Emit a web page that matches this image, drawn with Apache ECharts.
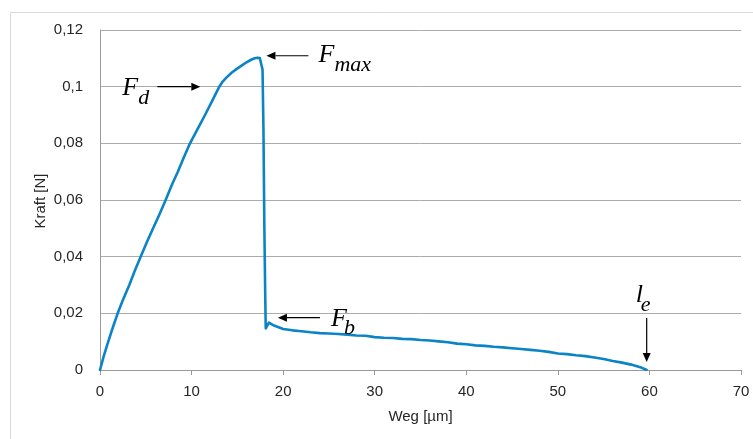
<!DOCTYPE html>
<html>
<head>
<meta charset="utf-8">
<script src="https://cdn.jsdelivr.net/npm/echarts@6/dist/echarts.min.js"></script>
<style>
  html, body { margin: 0; padding: 0; background: #fff; }
  #chart { width: 753px; height: 439px; }
</style>
</head>
<body>
<div id="chart"></div>
<script>
// Displacement in µm
const weg = [
  0, 0.4, 0.9, 1.4, 1.93, 2.5, 3.2, 3.8, 4.44, 5.1, 5.8, 6.5, 7.17, 7.83, 8.5, 9.15, 9.83, 10.65, 11.47, 12.25, 13.03, 13.4, 13.8,
  14.4, 14.9, 15.5, 16.0, 16.5, 16.9, 17.2, 17.45, 17.65, 17.75, 17.85, 17.95, 18.05, 18.1, 18.2, 18.45, 19.0,
  20, 21, 22, 23, 24, 25, 26, 27, 28, 29, 30, 31, 32, 33, 34, 35, 36, 37, 38, 39,
  40, 41, 42, 43, 44, 45, 46, 47, 48, 49, 50, 51, 52, 53, 54, 55, 56, 57, 58, 59, 59.7
];
// Force in N
const kraft = [
  0, 0.0048, 0.0100, 0.0150, 0.0200, 0.0247, 0.0300, 0.0350, 0.0400, 0.0450, 0.0500, 0.0550, 0.0600, 0.0652, 0.0700, 0.0750, 0.0800, 0.0850, 0.0900, 0.0950, 0.1000, 0.1018, 0.1032,
  0.1050, 0.1062, 0.1075, 0.1086, 0.1095, 0.1100, 0.1102, 0.1101, 0.1096, 0.1060, 0.0850, 0.0500, 0.0250, 0.0147, 0.0152, 0.0167, 0.0157,
  0.0145, 0.0140, 0.0137, 0.0133, 0.0130, 0.0129, 0.0127, 0.0125, 0.0122, 0.0121, 0.0116, 0.0114, 0.0113, 0.0110, 0.0109, 0.0106, 0.0104, 0.0101, 0.0098, 0.0093,
  0.0091, 0.0087, 0.0085, 0.0082, 0.0080, 0.0077, 0.0074, 0.0071, 0.0068, 0.0064, 0.0058, 0.0056, 0.0052, 0.0049, 0.0044, 0.0039, 0.0032, 0.0026, 0.0019, 0.0010, 0
];

// Axis ranges
const xRange = [0, 70, 10];
const yRange = [0, 0.12, 0.02];

// Annotation labels: symbol, subscript, data anchor
const notes = [
  { main: 'F', sub: 'max', at: [17.3, 0.1102] },
  { main: 'F', sub: 'd',   at: [13.03, 0.100] },
  { main: 'F', sub: 'b',   at: [18.45, 0.0167] },
  { main: 'l', sub: 'e',   at: [59.7, 0] }
];

const series = weg.map((x, i) => [x, kraft[i]]);

const chart = echarts.init(document.getElementById('chart'), null, { renderer: 'canvas' });

const axisFont = { fontFamily: 'Liberation Sans, Arial, sans-serif', fontSize: 15, color: '#262626' };

chart.setOption({
  animation: false,
  backgroundColor: '#fff',
  grid: { left: 100, right: 12, top: 30, bottom: 69, containLabel: false },
  xAxis: {
    type: 'value',
    min: xRange[0], max: xRange[1], interval: xRange[2],
    name: 'Weg [µm]',
    nameLocation: 'middle',
    nameGap: 39,
    nameTextStyle: axisFont,
    axisLine: { lineStyle: { color: '#9a9a9a', width: 1 } },
    axisTick: { show: true, length: 5, inside: false, lineStyle: { color: '#9a9a9a' } },
    axisLabel: Object.assign({ margin: 14 }, axisFont),
    splitLine: { show: false }
  },
  yAxis: {
    type: 'value',
    min: yRange[0], max: yRange[1], interval: yRange[2],
    axisLine: { show: true, lineStyle: { color: '#9a9a9a', width: 1 } },
    axisTick: { show: false },
    axisLabel: Object.assign({
      margin: 17,
      formatter: v => String(+v.toFixed(2)).replace('.', ',')
    }, axisFont),
    splitLine: { show: true, lineStyle: { color: '#ababab', width: 1 } }
  },
  series: [{
    type: 'line',
    data: series,
    showSymbol: false,
    smooth: false,
    lineStyle: { color: '#0a84c6', width: 2.6, join: 'round', cap: 'round' },
    z: 3
  }]
});

// Annotation arrows and math-style labels, positioned from their data anchors
const serif = 'Liberation Serif, Times New Roman, serif';
const elements = [
  { type: 'rect', silent: true, shape: { x: 10.5, y: 12.5, width: 800, height: 500 },
    style: { fill: 'none', stroke: '#d9d9d9', lineWidth: 1 }, z: 0 }
];

// Vertical axis title
const yMid = chart.convertToPixel({ gridIndex: 0 }, [0, (yRange[0] + yRange[1]) / 2]);
elements.push({ type: 'text', silent: true, x: 41, y: yMid[1] + 1, rotation: Math.PI / 2,
  style: { text: 'Kraft [N]', font: '15px Liberation Sans, Arial, sans-serif', fill: '#262626',
    textAlign: 'center', textVerticalAlign: 'middle' }, z: 10 });

function arrow(x1, y1, x2, y2) {
  // shaft from (x1,y1) to tip (x2,y2)
  const dx = x2 - x1, dy = y2 - y1, len = Math.hypot(dx, dy);
  const ux = dx / len, uy = dy / len;
  const hl = 9, hw = 4;
  const bx = x2 - ux * hl, by = y2 - uy * hl;
  elements.push({ type: 'line', silent: true, shape: { x1, y1, x2: bx, y2: by },
    style: { stroke: '#000', lineWidth: 1.2 }, z: 10 });
  elements.push({ type: 'polygon', silent: true,
    shape: { points: [[x2, y2], [bx - uy * hw, by + ux * hw], [bx + uy * hw, by - ux * hw]] },
    style: { fill: '#000' }, z: 10 });
}

function label(x, y, main, sub, mainSize, subSize, subDx, subDy) {
  elements.push({ type: 'text', silent: true, x, y,
    style: { text: main, font: 'italic ' + mainSize + 'px ' + serif, fill: '#000',
      textAlign: 'left', textVerticalAlign: 'bottom' }, z: 10 });
  elements.push({ type: 'text', silent: true, x: x + subDx, y: y + subDy,
    style: { text: sub, font: 'italic ' + subSize + 'px ' + serif, fill: '#000',
      textAlign: 'left', textVerticalAlign: 'bottom' }, z: 10 });
}

notes.forEach(n => {
  const p = chart.convertToPixel({ gridIndex: 0 }, n.at);
  const px = p[0], py = p[1];
  if (n.sub === 'max') {
    arrow(px + 50, py - 2, px + 8, py - 2);
    label(px + 60, py + 10, n.main, n.sub, 26, 22, 16, 8);
  } else if (n.sub === 'd') {
    arrow(px - 62, py, px - 19, py);
    label(px - 97, py + 15, n.main, n.sub, 26, 22, 16, 8);
  } else if (n.sub === 'b') {
    arrow(px + 51, py - 5, px + 9, py - 5);
    label(px + 62, py + 9, n.main, n.sub, 26, 22, 13, 8);
  } else {
    arrow(px, py - 52, px, py - 8);
    label(px - 11, py - 62, n.main, n.sub, 26, 22, 5, 8);
  }
});

chart.setOption({ graphic: { elements } });
</script>
</body>
</html>
